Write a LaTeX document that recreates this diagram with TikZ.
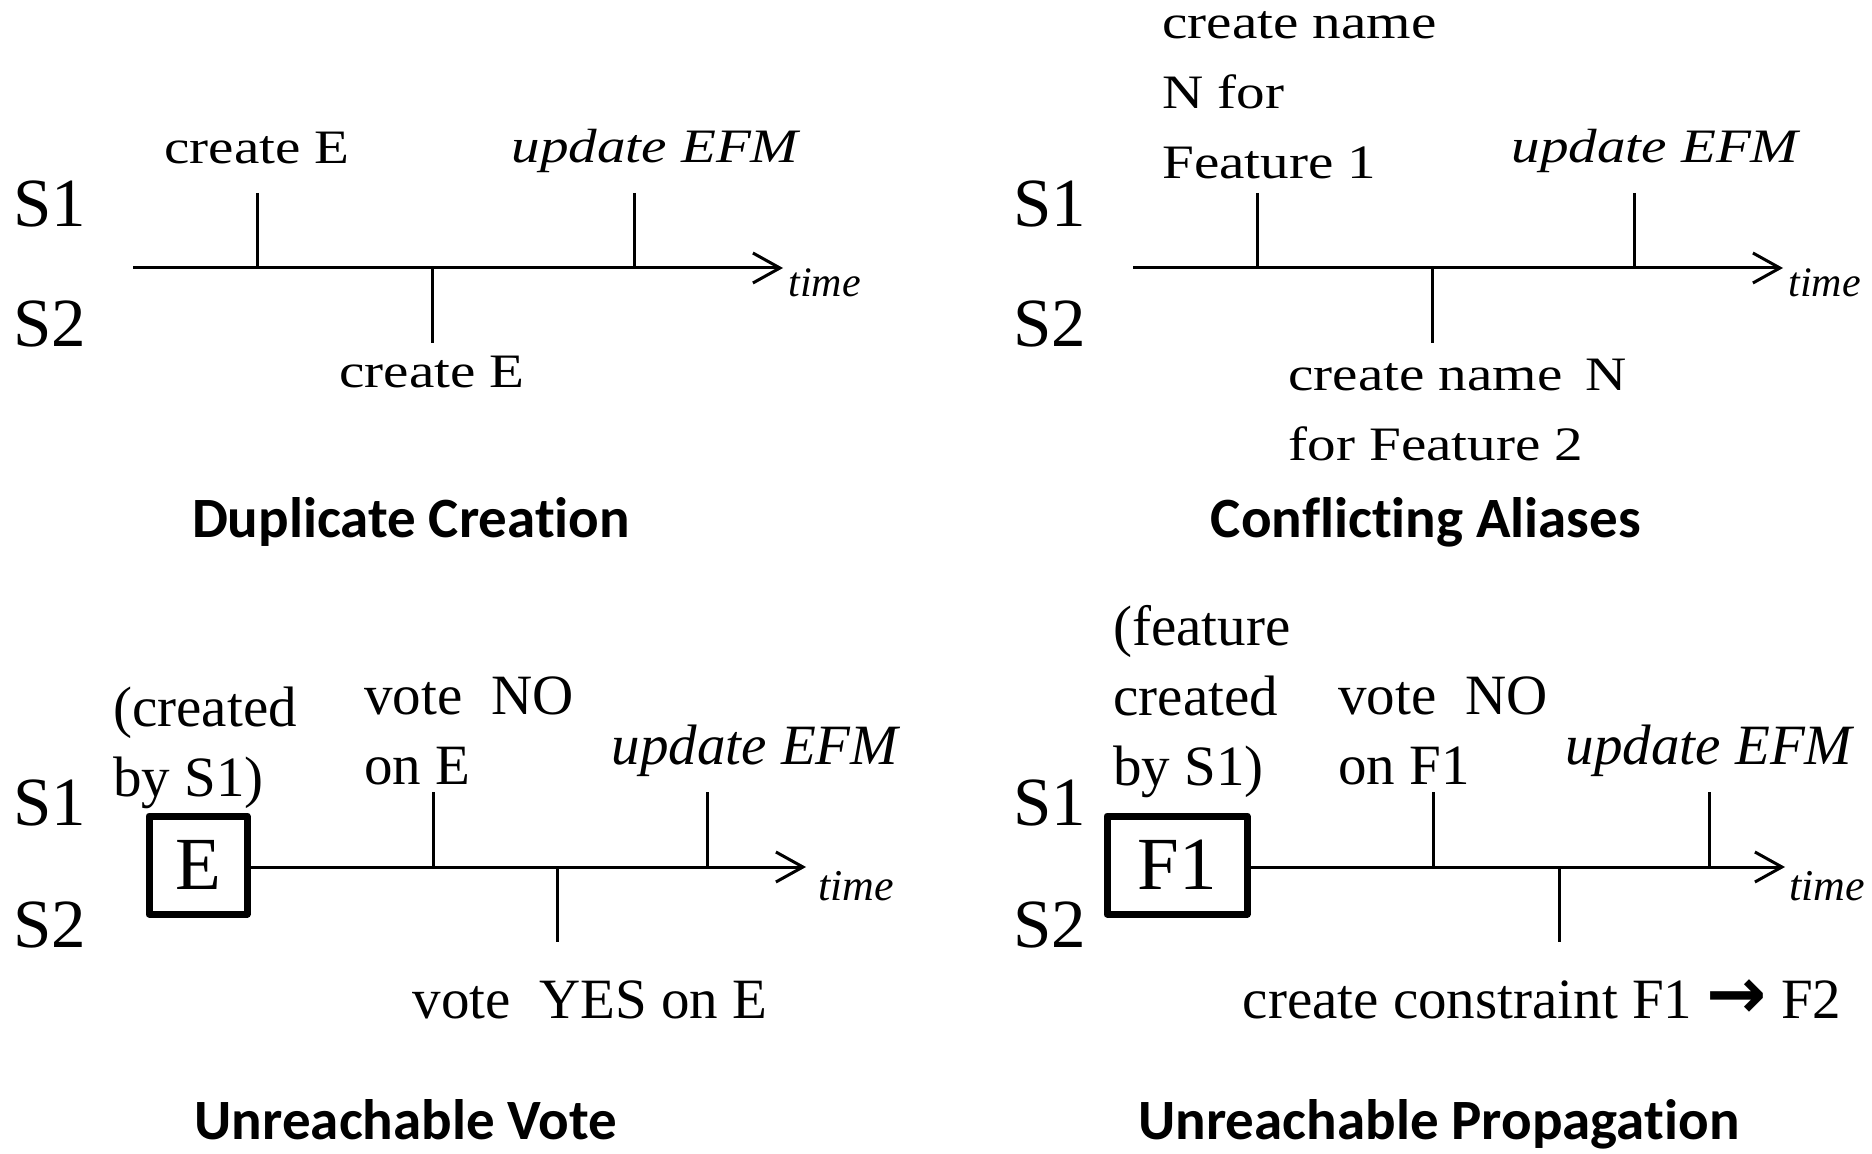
\documentclass[tikz,border=0pt]{standalone}
\usepackage{fontspec}
\setmainfont{Liberation Serif}
\newfontfamily\widefont[FakeStretch=1.19]{Liberation Serif}
\newfontfamily\titlefont[Ligatures=NoCommon]{Carlito}
\newfontfamily\arrowfont{DejaVu Sans}
\usepackage{tikz}
\usetikzlibrary{arrows.meta}

\begin{document}
\begin{tikzpicture}[x=0.5pt, y=-0.5pt,
    lbl/.style={inner sep=0pt, anchor=base west, align=left, font=\fontsize{28.5}{35}\selectfont},
    toplbl/.style={lbl, font=\widefont\fontsize{24}{35}\selectfont},
    srv/.style={inner sep=0pt, anchor=base west, font=\fontsize{34.5}{40}\selectfont},
    tm/.style={inner sep=0pt, anchor=base west, font=\fontsize{22}{26}\selectfont\itshape},
    ttl/.style={inner sep=0pt, anchor=base, font=\titlefont\bfseries\fontsize{28.5}{34}\selectfont},
    obj/.style={draw, line width=3.5pt, line join=round, inner sep=0pt, minimum height=49pt, font=\fontsize{37.5}{40}\selectfont},
    tick/.style={line width=1.5pt},
    axis/.style={line width=1.5pt, -{Straight Barb[length=13.5pt, width=15pt]}}]
    \useasboundingbox (0, 0) rectangle (1872, 1154);

    % Duplicate Creation
    \node (s1a) at (13, 227) [srv] {S1};
    \node (s2a) at (13, 347) [srv] {S2};
    \coordinate (ta) at (133, 268);
    \coordinate (tae) at (783, 268);
    \draw [axis] (ta) -- (tae);
    \draw [tick] (257, 193) -- (257, 268);
    \draw [tick] (432, 268) -- (432, 343);
    \draw [tick] (634, 193) -- (634, 268);
    \node (a1) at (257, 164) [toplbl, anchor=base] {create E};
    \node (a2) at (655, 163) [toplbl, anchor=base] {\itshape update EFM};
    \node (a3) at (432, 388) [toplbl, anchor=base] {create E};
    \node (tma) at (788, 297) [tm, font=\fontsize{21}{24}\selectfont\itshape] {time};
    \node (dup) at (411, 537) [ttl] {Duplicate Creation};

    % Conflicting Aliases
    \node (s1b) at (1013, 227) [srv] {S1};
    \node (s2b) at (1013, 347) [srv] {S2};
    \coordinate (tb) at (1133, 268);
    \coordinate (tbe) at (1783, 268);
    \draw [axis] (tb) -- (tbe);
    \draw [tick] (1257, 193) -- (1257, 268);
    \draw [tick] (1432, 268) -- (1432, 343);
    \draw [tick] (1634, 193) -- (1634, 268);
    \node (b1) at (1162, 179) [toplbl] {create name\\N for\\Feature 1};
    \node (b2) at (1655, 163) [toplbl, anchor=base] {\itshape update EFM};
    \node (b3) at (1288, 460) [toplbl] {create name~\,N\\for Feature 2};
    \node (tmb) at (1788, 297) [tm, font=\fontsize{21}{24}\selectfont\itshape] {time};
    \node (con) at (1426, 537) [ttl] {Conflicting Aliases};

    % Unreachable Vote
    \node (s1c) at (13, 825) [srv] {S1};
    \node (s2c) at (13, 947) [srv] {S2};
    \node (e) at (198, 865) [obj, minimum width=49pt] {E};
    \coordinate (tce) at (806, 867);
    \draw [axis] (e.east |- tce) -- (tce);
    \draw [tick] (433, 792) -- (433, 867);
    \draw [tick] (557, 867) -- (557, 942);
    \draw [tick] (707, 792) -- (707, 867);
    \node (c0) at (113, 796) [lbl] {(created\\by S1)};
    \node (c1) at (364, 784) [lbl] {vote\ \ NO\\on E};
    \node (c2) at (755, 764) [lbl, anchor=base] {\itshape update EFM};
    \node (c3) at (590, 1018) [lbl, anchor=base] {vote\ \ YES on E};
    \node (tmc) at (818, 900) [tm] {time};
    \node (vot) at (406, 1139) [ttl] {Unreachable Vote};

    % Unreachable Propagation
    \node (s1d) at (1013, 825) [srv] {S1};
    \node (s2d) at (1013, 947) [srv] {S2};
    \node (f1) at (1177, 865) [obj, minimum width=70pt] {F1};
    \coordinate (tde) at (1785, 867);
    \draw [axis] (f1.east |- tde) -- (tde);
    \draw [tick] (1433, 792) -- (1433, 867);
    \draw [tick] (1559, 867) -- (1559, 942);
    \draw [tick] (1709, 792) -- (1709, 867);
    \node (d0) at (1113, 785) [lbl] {(feature\\created\\by S1)};
    \node (d1) at (1338, 784) [lbl] {vote\ \ NO\\on F1};
    \node (d2) at (1709, 764) [lbl, anchor=base] {\itshape update EFM};
    \node (d3) at (1542, 1018) [lbl, anchor=base] {create constraint F1 {\arrowfont\bfseries\fontsize{36}{35}\selectfont →} F2};
    \node (tmd) at (1789, 900) [tm] {time};
    \node (pro) at (1439, 1139) [ttl] {Unreachable Propagation};
\end{tikzpicture}
\end{document}
